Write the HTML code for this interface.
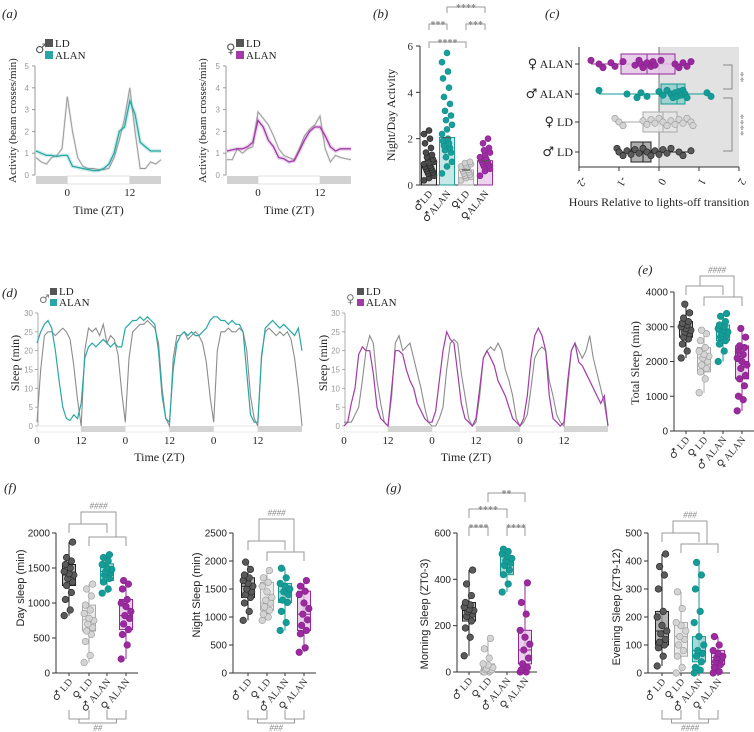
<!DOCTYPE html>
<html><head><meta charset="utf-8">
<style>
html,body{margin:0;padding:0;background:#fff;}
svg{display:block;font-family:"Liberation Serif",serif;}
.sans{font-family:"Liberation Sans",sans-serif;}
</style></head>
<body>
<svg id="fig" width="754" height="732" viewBox="0 0 754 732"></svg>
<script>
// ---------- DATA ----------
const aHours=[-6,-5,-4,-3,-2,-1,0,1,2,3,4,5,6,7,8,9,10,11,12,13,14,15,16,17,18];
const aMaleLD=[0.8,0.6,0.5,0.8,0.9,1.2,3.6,2.0,0.8,0.4,0.3,0.3,0.25,0.25,0.3,0.8,1.6,2.6,4.0,2.0,0.3,0.3,0.6,0.5,0.7];
const aMaleALAN=[1.1,1.0,0.9,0.9,0.85,0.9,0.9,0.4,0.35,0.3,0.25,0.2,0.2,0.3,0.5,1.0,2.0,2.2,3.4,2.8,1.5,1.3,1.1,1.1,1.1];
const aFemLD=[0.7,0.7,1.2,1.0,1.2,1.3,2.9,2.6,2.3,1.8,1.2,0.9,0.8,0.7,1.2,1.8,2.1,2.3,2.7,1.2,0.6,0.9,0.8,0.75,0.7];
const aFemALAN=[1.1,1.15,1.2,1.2,1.3,1.5,2.5,2.2,1.6,1.3,0.8,0.75,0.6,0.65,1.1,1.6,2.0,2.2,2.2,1.8,1.3,1.1,1.2,1.2,1.2];
const aTicks=[0,1,2,3,4,5];

const dHours=Array.from({length:73},(_,i)=>i);
const dMaleLD=[1,15,24,25,25,24,25,26,25,23,16,7,0,20,26,25,26,24,27,22,24,23,19,9,
 1,18,25,26,27,27,28,27,26,22,10,2,0,18,24,24,25,23,24,25,24,22,17,8,
 1,20,25,25,26,25,25,26,25,20,8,2,0,19,25,26,25,24,25,24,25,23,18,10,0];
const dMaleALAN=[22,25,27,28,26,20,12,5,2,1.5,3,2,6,18,21,22,21,22,23,22,21,22,21,21,
 26,27,28,28,29,28,29,28,27,20,8,2,1,15,22,24,25,24,25,24,24,25,26,28,
 29,29,28,28,27,28,27,27,25,14,3,1,1,18,26,27,28,27,26,27,26,25,24,26,20];
const dFemLD=[1,1,1,3,5,12,20,24,22,12,6,1,0,8,22,24,20,21,22,18,14,10,5,1,
 0,0,2,5,15,22,23,22,14,8,2,0,1,8,18,20,21,20,22,20,15,12,8,2,
 0,1,3,10,18,20,21,20,12,8,3,1,0,10,20,22,20,18,20,24,18,14,10,6,0];
const dFemALAN=[0,1,6,10,19,21,20,20,14,5,2,1,0,10,20,20,19,15,12,10,6,4,2,1,
 1,4,12,20,25,23,22,14,6,2,1,0,2,10,18,20,18,16,12,10,8,5,2,1,
 0,2,8,18,24,26,24,20,8,2,1,0,1,12,20,22,17,16,14,12,10,8,6,8,0];
const dTicks=[0,5,10,15,20,25,30];
const dXLabels=['0','12','0','12','0','12'];

const groups=['♂ LD','♀ LD','♂ ALAN','♀ ALAN'];
const bGroups=['♂LD','♂ALAN','♀LD','♀ALAN'];
const bMeans=[0.95,2.05,0.65,1.05];
const bPts=[[0.2,0.3,0.4,0.5,0.55,0.6,0.65,0.7,0.75,0.8,0.85,0.9,0.95,1.0,1.05,1.1,1.2,1.3,1.4,1.6,1.8,2.0,2.2,2.35],
 [0.5,0.8,1.0,1.2,1.4,1.5,1.6,1.7,1.8,1.9,2.0,2.2,2.4,2.6,2.8,3.0,3.2,3.5,3.8,4.2,4.6,4.9,5.3,5.7],
 [0.2,0.3,0.35,0.4,0.45,0.5,0.55,0.6,0.65,0.7,0.75,0.8,0.85,0.9,0.95,1.0],
 [0.4,0.6,0.7,0.8,0.85,0.9,0.95,1.0,1.05,1.1,1.15,1.2,1.3,1.4,1.5,1.6,1.8,2.0]];
const bTicks=[0,2,4,6];

const cRows=['♀ ALAN','♂ ALAN','♀ LD','♂ LD'];
const cQ1=[-0.95,0.05,-0.4,-0.7], cMed=[-0.3,0.45,0.1,-0.4], cQ3=[0.4,0.65,0.45,-0.2], cLo=[-1.7,-1.5,-1.1,-1.05], cHi=[0.8,1.3,0.85,0.8];
const cPts=[[-1.7,-1.5,-1.4,-1.2,-1.1,-0.9,-0.6,-0.5,-0.45,-0.4,-0.3,-0.2,-0.15,-0.1,0.05,0.4,0.5,0.6,0.7,0.8],
 [-1.5,-0.8,-0.55,-0.45,-0.3,0.0,0.1,0.2,0.3,0.35,0.4,0.45,0.5,0.55,0.6,0.65,0.7,1.2,1.3],
 [-1.1,-1.0,-0.9,-0.4,-0.3,-0.2,-0.1,0.0,0.1,0.2,0.3,0.4,0.5,0.6,0.7,0.8,0.85],
 [-1.05,-1.0,-0.9,-0.8,-0.7,-0.6,-0.5,-0.4,-0.3,-0.2,-0.1,0.0,0.1,0.2,0.3,0.5,0.6,0.8]];
const cTicks=['-2','-1','0','1','2'];

const eTicks=[0,1000,2000,3000,4000];
const eQ1=[2700,1700,2600,1500], eMed=[2950,2100,2850,2000], eQ3=[3150,2400,3050,2450], eLo=[2100,1100,2000,580], eHi=[3650,2900,3380,2950];
const ePts=[[2100,2300,2500,2650,2700,2800,2850,2900,2950,3000,3050,3100,3150,3250,3400,3650],
 [1100,1500,1700,1800,1900,2000,2100,2150,2200,2300,2400,2600,2800,2900],
 [2000,2300,2500,2600,2700,2750,2800,2850,2900,2950,3000,3050,3150,3300,3380],
 [580,900,1000,1300,1500,1600,1800,1900,2000,2100,2200,2300,2400,2450,2700,2950]];

const fdTicks=[0,500,1000,1500,2000];
const fdQ1=[1250,600,1320,620], fdMed=[1400,760,1450,820], fdQ3=[1550,970,1560,1050], fdLo=[820,150,1140,200], fdHi=[1870,1270,1690,1320];
const fdPts=[[820,900,1050,1150,1250,1300,1350,1400,1420,1450,1500,1550,1600,1650,1870],
 [150,250,450,550,600,650,700,750,780,850,900,970,1100,1200,1270],
 [1140,1200,1300,1350,1400,1430,1450,1480,1500,1550,1600,1650,1690],
 [200,400,550,620,700,780,820,880,950,1000,1050,1200,1270,1320]];

const fnTicks=[0,500,1000,1500,2000,2500];
const fnQ1=[1350,1120,1260,760], fnMed=[1550,1250,1450,1050], fnQ3=[1700,1620,1600,1460], fnLo=[940,940,760,370], fnHi=[1980,1830,1870,1650];
const fnPts=[[940,1100,1250,1350,1400,1450,1500,1550,1600,1650,1700,1750,1850,1980],
 [940,1000,1050,1120,1180,1250,1300,1350,1450,1550,1620,1700,1830],
 [760,900,1100,1260,1300,1400,1450,1500,1550,1600,1700,1870],
 [370,450,700,760,850,950,1050,1150,1250,1400,1460,1550,1650]];

const gmTicks=[0,200,400,600];
const gmQ1=[220,0,420,35], gmMed=[265,10,470,95], gmQ3=[300,35,500,180], gmLo=[70,0,345,0], gmHi=[440,145,530,385];
const gmPts=[[70,150,190,220,240,250,260,265,270,280,290,300,330,380,440],
 [0,0,0,5,10,10,15,20,30,35,60,100,145],
 [345,380,420,440,460,470,480,490,500,510,520,530],
 [0,0,10,20,35,60,95,120,150,180,250,300,385]];

const geTicks=[0,100,200,300,400,500];
const geQ1=[100,60,40,30], geMed=[150,130,80,55], geQ3=[220,180,130,80], geLo=[25,0,0,0], geHi=[425,290,395,130];
const gePts=[[25,60,90,100,110,120,140,150,170,200,220,300,350,380,425],
 [0,20,60,80,100,120,130,150,170,180,230,290],
 [0,10,20,40,60,70,80,100,130,180,220,300,350,395],
 [0,5,20,30,40,50,55,60,70,80,100,130]];

// ---------- HELPERS ----------
const NS='http://www.w3.org/2000/svg';
const svg=document.getElementById('fig');
function mk(tag,attrs,parent,name,inter){
  const el=document.createElementNS(NS,tag);
  for(const k in attrs) el.setAttribute(k,attrs[k]);
  
  
  parent.appendChild(el);
  return el;
}
function tx(p,x,y,s,attrs,name){const t=mk('text',Object.assign({x:x,y:y},attrs||{}),p,name,false);t.textContent=s;return t;}
// label whose first char is a sex symbol, drawn larger in DejaVu Sans
function symTx(p,x,y,s,attrs,name,symSize){
  const t=mk('text',Object.assign({x:x,y:y},attrs||{}),p,name,false);
  const a=document.createElementNS(NS,'tspan');
  a.setAttribute('style','font-family:"DejaVu Sans",sans-serif;font-size:'+symSize+'px');
  a.textContent=s.charAt(0);
  t.appendChild(a);
  t.appendChild(document.createTextNode(s.slice(1)));
  return t;
}
function ln(p,x1,y1,x2,y2,st,w,name){return mk('line',{x1,y1,x2,y2,stroke:st,'stroke-width':w||1},p,name,false);}
function pathD(p,d,st,w,name){return mk('path',{d:d,stroke:st,'stroke-width':w||1,fill:'none'},p,name,false);}

const boxFill=['#a0a0a0','#e6e6e6','#8fd0cc','#e3c6e5'];
const boxStroke=['#222','#aaa','#139a95','#95279a'];
const ptFill=['#5a5a5a','#d4d4d4','#169c97','#9b2a9f'];
const ptStroke=['#222','#9a9a9a','#0f8a86','#85208a'];

[['(a)',2,18],['(b)',373,18],['(c)',545,18],['(d)',2,297],['(e)',638,274],['(f)',4,492],['(g)',386,492]].forEach(l=>{
  tx(svg,l[1],l[2],l[0],{'font-size':13,'font-style':'italic',fill:'#222'},'panel-label');
});

// ---------- ACTIVITY PANELS (a) ----------
function activityPanel(x0,x1,y0,yTop,ld,alan,col,sym,ylx){
  const g=mk('g',{},svg,'activity-chart',false);
  const xs=t=>x0+(t-aHours[0])/(aHours[aHours.length-1]-aHours[0])*(x1-x0);
  const ys=v=>y0-v/5*(y0-yTop);
  ln(g,x0-1,yTop,x0-1,y0,'#999',1,'y-axis');
  aTicks.forEach(v=>{ln(g,x0-4,ys(v),x0-1,ys(v),'#999',1,'y-tick');tx(g,x0-7,ys(v)+3,String(v),{'font-size':8,fill:'#999','text-anchor':'end',class:'sans'},'y-tick-label');});
  mk('rect',{x:xs(-6),y:y0+1,width:xs(0)-xs(-6),height:8,fill:'#d2d2d2'},g,'dark-phase-bar',false);
  mk('rect',{x:xs(0),y:y0+1,width:xs(12)-xs(0),height:8,fill:'#fff',stroke:'#ccc','stroke-width':0.6},g,'light-phase-bar',false);
  mk('rect',{x:xs(12),y:y0+1,width:xs(18)-xs(12),height:8,fill:'#d2d2d2'},g,'dark-phase-bar',false);
  [0,12].forEach(t=>tx(g,xs(t),y0+21,String(t),{'font-size':11,'text-anchor':'middle',fill:'#222'},'x-tick-label'));
  tx(g,(x0+x1)/2,y0+39,'Time (ZT)',{'font-size':12,'text-anchor':'middle',fill:'#222'},'x-axis-title');
  const dl=ld.map((v,i)=>(i?'L':'M')+xs(aHours[i]).toFixed(1)+','+ys(v).toFixed(1)).join('');
  const da=alan.map((v,i)=>(i?'L':'M')+xs(aHours[i]).toFixed(1)+','+ys(v).toFixed(1)).join('');
  const sh=pathD(g,dl,'#ccc',2.2,'ld-sem-band');sh.setAttribute('stroke-opacity','0.5');
  pathD(g,dl,'#999',0.9,'ld-line');
  const sa=pathD(g,da,col,4,'alan-sem-band');sa.setAttribute('stroke-opacity','0.22');
  pathD(g,da,col,1.3,'alan-line');
  tx(g,x0-1,yTop-13,sym,{style:'font-family:"DejaVu Sans",sans-serif;font-size:13px',fill:'#555'},'sex-symbol');
  mk('rect',{x:x0+9,y:yTop-27,width:8,height:8,fill:'#555'},g,'legend-swatch-ld',false);
  tx(g,x0+19,yTop-19,'LD',{'font-size':11,fill:'#222'},'legend-label-ld');
  mk('rect',{x:x0+9,y:yTop-15,width:8,height:8,fill:col},g,'legend-swatch-alan',false);
  tx(g,x0+19,yTop-7,'ALAN',{'font-size':11,fill:'#222'},'legend-label-alan');
  tx(g,0,0,'Activity (beam crosses/min)',{'font-size':11,fill:'#222','text-anchor':'middle',transform:`translate(${ylx},${(y0+yTop)/2}) rotate(-90)`},'y-axis-title');
}
activityPanel(36,161,175,66,aMaleLD,aMaleALAN,'#2aa7a3','♂',16);
activityPanel(227,351,175,66,aFemLD,aFemALAN,'#a23aa8','♀',206);

// ---------- (b) BAR ----------
(function(){
  const g=mk('g',{},svg,'night-day-activity-chart',false);
  const ax=420,y0=185,yT=46,gx=[429,447,466,485];
  const ys=v=>y0-v/6*(y0-yT);
  const barFill=['#e6e6e6','#c6e8e6','#efefef','#ecd3ee'];
  const barStroke=['#222','#1a9e9a','#aaa','#9b2fa0'];
  const bpF=['#4a4a4a','#17a09b','#d0d0d0','#a02fa5'];
  const bpS=['#222','#0f8a86','#999','#85208a'];
  ln(g,ax,yT,ax,y0,'#333',1,'y-axis');ln(g,ax,y0,493,y0,'#333',1,'x-axis');
  bTicks.forEach(v=>{ln(g,ax-4,ys(v),ax,ys(v),'#333',1,'y-tick');tx(g,ax-7,ys(v)+4,String(v),{'font-size':11,'text-anchor':'end',fill:'#333'},'y-tick-label');});
  bMeans.forEach((m,i)=>{
    mk('rect',{x:gx[i]-7.5,y:ys(m),width:15,height:y0-ys(m),fill:barFill[i],stroke:barStroke[i],'stroke-width':1},g,'bar-'+bGroups[i],true);
  });
  bPts.forEach((arr,i)=>arr.forEach((v,j)=>{
    mk('circle',{cx:gx[i]+((j*5)%11-5)*1.0,cy:ys(v),r:3,fill:bpF[i],stroke:bpS[i],'stroke-width':0.6},g,'data-point',false);
  }));
  bMeans.forEach((m,i)=>ln(g,gx[i]-4,ys(m),gx[i]+4,ys(m),'#555',1.2,'mean-line'));
  bGroups.forEach((s,i)=>symTx(g,0,0,s,{'font-size':10,fill:'#222','text-anchor':'end',transform:`translate(${gx[i]+4},${y0+9}) rotate(-50)`},'x-tick-label',11));
  tx(g,0,0,'Night/Day Activity',{'font-size':12,fill:'#222','text-anchor':'middle',transform:`translate(395,115) rotate(-90)`},'y-axis-title');
  const br=[[429,447,24,'***'],[466,485,24,'***'],[429,466,42,'****'],[447,485,7,'****']];
  br.forEach(b=>{pathD(g,`M${b[0]},${b[2]+6}V${b[2]}H${b[1]}V${b[2]+6}`,'#999',1,'significance-bracket');
    tx(g,(b[0]+b[1])/2,b[2]+4,b[3],{'font-size':10,'text-anchor':'middle',fill:'#888','font-weight':'bold'},'significance-label');});
})();

// ---------- (c) HORIZONTAL BOX ----------
(function(){
  const g=mk('g',{},svg,'lights-off-transition-chart',false);
  const xs=v=>659+v*40, rowY=[64,94,122,152];
  mk('rect',{x:659,y:47,width:80,height:120,fill:'#e2e2e2'},g,'lights-off-shading',false);
  ln(g,579,47,579,167,'#333',1,'y-axis');ln(g,579,167,739,167,'#333',1,'x-axis');
  ln(g,659,47,659,167,'#555',0.8,'zero-line');
  cTicks.forEach(s=>{const v=parseFloat(s);ln(g,xs(v),167,xs(v),171,'#333',1,'x-tick');
    tx(g,0,0,s,{'font-size':11,fill:'#222','text-anchor':'middle',transform:`translate(${xs(v)},180) rotate(120)`},'x-tick-label');});
  const ord=[3,2,1,0];
  cRows.forEach((r,i)=>{
    const k=ord[i]; const y=rowY[i];
    ln(g,575,y,579,y,'#333',1,'y-tick');
    symTx(g,573,y+4,r,{'font-size':12,'text-anchor':'end',fill:'#222'},'y-tick-label',13);
    ln(g,xs(cLo[i]),y,xs(cHi[i]),y,boxStroke[k],1,'whisker');
    mk('rect',{x:xs(cQ1[i]),y:y-10,width:xs(cQ3[i])-xs(cQ1[i]),height:20,fill:boxFill[k],'fill-opacity':0.85,stroke:boxStroke[k]},g,'box-'+r,true);
    ln(g,xs(cMed[i]),y-10,xs(cMed[i]),y+10,boxStroke[k],1,'median-line');
    cPts[i].forEach((v,j)=>mk('circle',{cx:xs(v),cy:y+((j*3)%7-3)*1.2,r:3.2,fill:ptFill[k],stroke:ptStroke[k],'stroke-width':0.6},g,'data-point',false));
  });
  pathD(g,'M723,65H732V89H723','#888',1,'significance-bracket');
  tx(g,0,0,'**',{'font-size':11,fill:'#888','text-anchor':'middle',transform:'translate(737,77) rotate(90)'},'significance-label');
  pathD(g,'M723,98H732V151H723','#888',1,'significance-bracket');
  tx(g,0,0,'****',{'font-size':11,fill:'#888','text-anchor':'middle',transform:'translate(737,125) rotate(90)'},'significance-label');
  tx(g,659,206,'Hours Relative to lights-off transition',{'font-size':12,'text-anchor':'middle',fill:'#222'},'x-axis-title');
})();

// ---------- (d) SLEEP TIME SERIES ----------
function sleepPanel(x0,x1,ld,alan,col,sym,ylx){
  const g=mk('g',{},svg,'sleep-timeseries-chart',false);
  const y0=426,yT=313;
  const xs=t=>x0+t/72*(x1-x0), ys=v=>y0-v/30*(y0-yT);
  ln(g,x0+1,yT,x0+1,y0,'#999',0.8,'y-axis');
  dTicks.forEach(v=>{ln(g,x0-2,ys(v),x0+1,ys(v),'#999',0.8,'y-tick');tx(g,x0-4,ys(v)+3,String(v),{'font-size':8,fill:'#999','text-anchor':'end',class:'sans'},'y-tick-label');});
  for(let d=0;d<6;d++){
    mk('rect',{x:xs(d*12),y:y0,width:xs(12)-xs(0),height:6,fill:d%2?'#d4d4d4':'#fff',stroke:d%2?'none':'#ddd','stroke-width':0.6},g,d%2?'dark-phase-bar':'light-phase-bar',false);
    tx(g,xs(d*12),y0+18,dXLabels[d],{'font-size':11,'text-anchor':'middle',fill:'#222'},'x-tick-label');
  }
  tx(g,(x0+x1)/2-10,y0+35,'Time (ZT)',{'font-size':12,'text-anchor':'middle',fill:'#222'},'x-axis-title');
  const dl=ld.map((v,i)=>(i?'L':'M')+xs(dHours[i]).toFixed(1)+','+ys(v).toFixed(1)).join('');
  const da=alan.map((v,i)=>(i?'L':'M')+xs(dHours[i]).toFixed(1)+','+ys(v).toFixed(1)).join('');
  pathD(g,dl,'#8c8c8c',1.1,'ld-line');
  pathD(g,da,col,1.2,'alan-line');
  tx(g,x0+2,yT-10,sym,{style:'font-family:"DejaVu Sans",sans-serif;font-size:12px',fill:'#777'},'sex-symbol');
  mk('rect',{x:x0+13,y:yT-25,width:7,height:7,fill:'#555'},g,'legend-swatch-ld',false);
  tx(g,x0+22,yT-18,'LD',{'font-size':11,fill:'#222'},'legend-label-ld');
  mk('rect',{x:x0+13,y:yT-14,width:7,height:7,fill:col},g,'legend-swatch-alan',false);
  tx(g,x0+22,yT-7,'ALAN',{'font-size':11,fill:'#222'},'legend-label-alan');
  tx(g,0,0,'Sleep (min)',{'font-size':12,fill:'#222','text-anchor':'middle',transform:`translate(${ylx},363) rotate(-90)`},'y-axis-title');
}
sleepPanel(37,302,dMaleLD,dMaleALAN,'#2aa7a3','♂',19);
sleepPanel(344,608,dFemLD,dFemALAN,'#a23aa8','♀',327);

// ---------- BOX PANELS ----------
function boxPanel(c){
  const g=mk('g',{},svg,c.name,false);
  const ys=v=>c.y0-v/c.vmax*(c.y0-c.yT);
  ln(g,c.ax,c.yT,c.ax,c.y0,'#333',1,'y-axis');
  ln(g,c.ax,c.y0,c.gx[3]+12,c.y0,'#333',1,'x-axis');
  c.ticks.forEach(v=>{ln(g,c.ax-4,ys(v),c.ax,ys(v),'#333',1,'y-tick');
    tx(g,c.ax-6,ys(v)+3.5,String(v),{'font-size':10,'text-anchor':'end',fill:'#222',class:'sans'},'y-tick-label');});
  c.gx.forEach((x,i)=>{
    ln(g,x,c.y0,x,c.y0+3,'#333',1,'x-tick');
    ln(g,x,ys(c.lo[i]),x,ys(c.hi[i]),boxStroke[i],1,'whisker');
    mk('rect',{x:x-6.5,y:ys(c.q3[i]),width:13,height:Math.max(1,ys(c.q1[i])-ys(c.q3[i])),fill:boxFill[i],'fill-opacity':0.8,stroke:boxStroke[i],'stroke-width':1},g,'box-'+groups[i],true);
    ln(g,x-6.5,ys(c.med[i]),x+6.5,ys(c.med[i]),boxStroke[i],1,'median-line');
    c.pts[i].forEach((v,j)=>mk('circle',{cx:x+((j*5)%9-4)*1.2,cy:ys(v),r:3.3,fill:ptFill[i],stroke:ptStroke[i],'stroke-width':0.6},g,'data-point',false));
    symTx(g,0,0,groups[i],{'font-size':10,fill:'#333','text-anchor':'end',transform:`translate(${x+4},${c.y0+9}) rotate(-50)`},'x-tick-label',11);
  });
  tx(g,0,0,c.ylabel,{'font-size':c.serif?12:11,fill:'#222','text-anchor':'middle',class:c.serif?'':'sans',transform:`translate(${c.ylx},${c.yly}) rotate(-90)`},'y-axis-title');
  return g;
}
function hashTop(g,gx,yA,yB,yC,cl,cr,lab){
  pathD(g,`M${gx[0]},${yA+9}V${yA}H${gx[2]}V${yA+9}`,'#999',1,'comparison-bracket');
  pathD(g,`M${gx[1]},${yB+9}V${yB}H${gx[3]}V${yB+9}`,'#999',1,'comparison-bracket');
  pathD(g,`M${cl},${yA}V${yC}H${cr}V${yB}`,'#999',1,'comparison-bracket');
  tx(g,(cl+cr)/2,yC-3,lab,{'font-size':9,'text-anchor':'middle',fill:'#888','font-style':'italic'},'comparison-label');
}
function hashBottom(g,gx,lab){
  pathD(g,`M${gx[0]},710V719H${gx[1]}V710`,'#999',1,'comparison-bracket');
  pathD(g,`M${gx[2]},710V719H${gx[3]}V710`,'#999',1,'comparison-bracket');
  const m1=(gx[0]+gx[1])/2,m2=(gx[2]+gx[3])/2;
  pathD(g,`M${m1},719V723H${m2}V719`,'#999',1,'comparison-bracket');
  tx(g,(m1+m2)/2,731,lab,{'font-size':9,'text-anchor':'middle',fill:'#888','font-style':'italic'},'comparison-label');
}
(function(){
  const gx=[686,704,723,742];
  const g=boxPanel({name:'total-sleep-chart',ax:674,y0:431,yT:292,vmax:4000,ticks:eTicks,gx:gx,q1:eQ1,med:eMed,q3:eQ3,lo:eLo,hi:eHi,pts:ePts,ylabel:'Total Sleep (min)',ylx:639,yly:363,serif:true});
  hashTop(g,gx,286,297,276,700,734,'####');
})();
(function(){
  const gx=[69,89,107,126];
  const g=boxPanel({name:'day-sleep-chart',ax:56,y0:673,yT:533,vmax:2000,ticks:fdTicks,gx:gx,q1:fdQ1,med:fdMed,q3:fdQ3,lo:fdLo,hi:fdHi,pts:fdPts,ylabel:'Day sleep (min)',ylx:24,yly:588});
  hashTop(g,gx,524,537,512,81,116,'####');
  hashBottom(g,gx,'##');
})();
(function(){
  const gx=[248,267,285,304];
  const g=boxPanel({name:'night-sleep-chart',ax:233,y0:673,yT:533,vmax:2500,ticks:fnTicks,gx:gx,q1:fnQ1,med:fnMed,q3:fnQ3,lo:fnLo,hi:fnHi,pts:fnPts,ylabel:'Night Sleep (min)',ylx:200,yly:595});
  hashTop(g,gx,541,552,519,259,294,'####');
  hashBottom(g,gx,'###');
})();
(function(){
  const gx=[469,488,507,525];
  const g=boxPanel({name:'morning-sleep-chart',ax:457,y0:672,yT:533,vmax:600,ticks:gmTicks,gx:gx,q1:gmQ1,med:gmMed,q3:gmQ3,lo:gmLo,hi:gmHi,pts:gmPts,ylabel:'Morning Sleep (ZT0-3)',ylx:428,yly:614});
  const br=[[469,488,527,'****'],[507,525,527,'****'],[469,507,509,'****'],[488,525,493,'**']];
  br.forEach(b=>{pathD(g,`M${b[0]},${b[2]+9}V${b[2]}H${b[1]}V${b[2]+9}`,'#999',1,'significance-bracket');
    tx(g,(b[0]+b[1])/2,b[2]+4,b[3],{'font-size':10,'text-anchor':'middle',fill:'#888','font-weight':'bold'},'significance-label');});
})();
(function(){
  const gx=[662,681,699,718];
  const g=boxPanel({name:'evening-sleep-chart',ax:648,y0:673,yT:533,vmax:500,ticks:geTicks,gx:gx,q1:geQ1,med:geMed,q3:geQ3,lo:geLo,hi:geHi,pts:gePts,ylabel:'Evening Sleep (ZT9-12)',ylx:620,yly:607});
  hashTop(g,gx,533,544,521,673,707,'###');
  hashBottom(g,gx,'####');
})();
</script>
</body></html>
